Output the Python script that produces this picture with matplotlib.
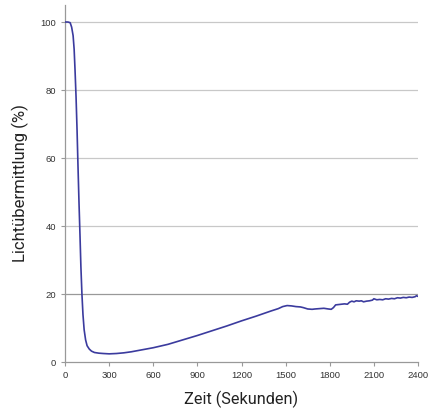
import matplotlib.pyplot as plt
import numpy as np

# Zeit (s) und Lichtübermittlung (%)
zeit = [0, 20, 35, 45, 55, 62, 68, 75, 82, 88, 95, 102, 108, 115, 122, 130,
        140, 150, 165, 180, 200, 230, 260, 300, 350, 400, 450, 500, 600,
        700, 800, 900, 1000, 1100, 1200, 1300, 1400, 1450, 1480, 1510,
        1540, 1570, 1600, 1620, 1650, 1680, 1700, 1730, 1760, 1790, 1810,
        1825, 1840, 1860, 1880, 1900, 1920, 1935, 1950, 1965, 1980, 2000,
        2015, 2030, 2050, 2070, 2090, 2100, 2120, 2140, 2160, 2180, 2200,
        2220, 2240, 2260, 2280, 2300, 2320, 2340, 2360, 2380, 2390, 2400]
licht = [100, 100, 99.8, 98.5, 96, 92, 86, 78, 68, 58, 47, 37, 28, 20, 14, 9.5,
         6.5, 4.8, 3.8, 3.2, 2.8, 2.6, 2.5, 2.4, 2.5, 2.7, 3.0, 3.4, 4.2,
         5.2, 6.5, 7.8, 9.2, 10.6, 12.1, 13.5, 15.0, 15.7, 16.3, 16.6,
         16.5, 16.3, 16.2, 16.0, 15.6, 15.5, 15.6, 15.7, 15.8, 15.6, 15.5,
         16.0, 16.8, 16.9, 17.0, 17.1, 17.0, 17.6, 17.9, 17.7, 18.0, 17.9,
         18.0, 17.7, 17.9, 18.0, 18.2, 18.6, 18.3, 18.4, 18.3, 18.6, 18.5,
         18.7, 18.6, 18.9, 18.8, 19.0, 18.9, 19.1, 19.0, 19.2, 19.5, 19.3]

x_ticks = [0, 300, 600, 900, 1200, 1500, 1800, 2100, 2400]
y_ticks = [0, 20, 40, 60, 80, 100]

fig = plt.figure(figsize=(4.32, 4.11), dpi=100)
ax = fig.add_axes([0.1505, 0.1192, 0.8171, 0.8686])

for y in y_ticks[1:]:
    farbe = '#999999' if y == 20 else '#c8c8c8'
    ax.axhline(y, color=farbe, lw=0.9, zorder=1)

ax.plot(zeit, licht, color='#3b3b9e', lw=1.2, zorder=3)

ax.set_xlim(0, 2400)
ax.set_ylim(0, 105)
ax.set_xticks(x_ticks)
ax.set_yticks(y_ticks)
ax.tick_params(labelsize=6.8, labelcolor='#333333', color='#999999',
               length=3, width=0.8)
for lab in ax.get_xticklabels() + ax.get_yticklabels():
    lab.set_family('Liberation Sans')

for s in ['top', 'right']:
    ax.spines[s].set_visible(False)
for s in ['left', 'bottom']:
    ax.spines[s].set_color('#999999')
    ax.spines[s].set_linewidth(0.9)

ax.set_xlabel('Zeit (Sekunden)', fontsize=11.7, family='Roboto', color='#222222', labelpad=8)
ax.set_ylabel('Lichtübermittlung (%)', fontsize=12, family='Roboto', color='#222222', labelpad=8)

plt.savefig('out.png', dpi=100)
